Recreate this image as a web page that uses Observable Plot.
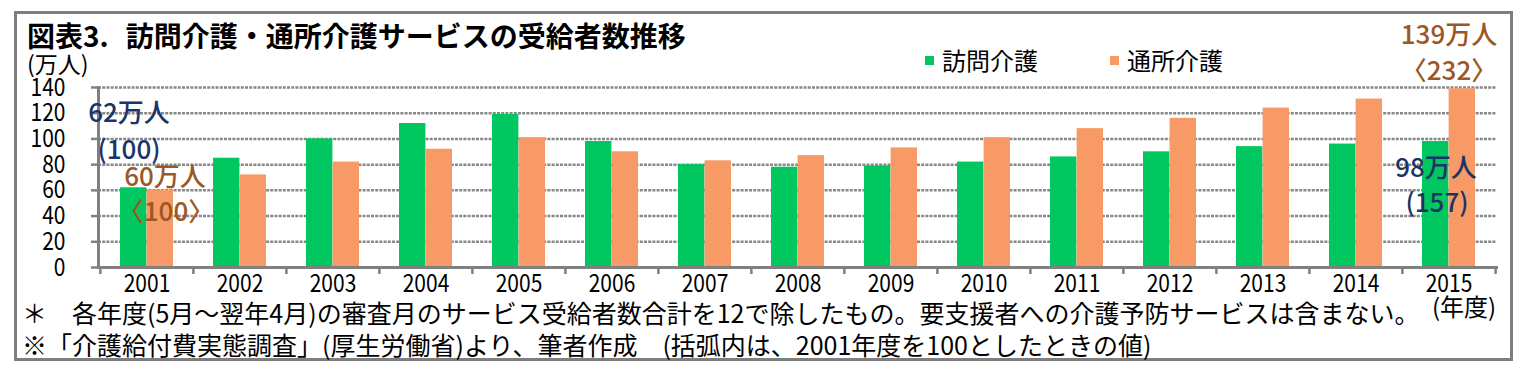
<!DOCTYPE html>
<html><head><meta charset="utf-8">
<script src="https://cdn.jsdelivr.net/npm/d3@7"></script>
<script src="https://cdn.jsdelivr.net/npm/@observablehq/plot@0.6"></script>
<style>
html,body{margin:0;padding:0;background:#fff;}
body{width:1528px;height:371px;overflow:hidden;position:relative;font-family:"Noto Sans CJK JP",sans-serif;}
#frame{position:absolute;left:14px;top:11px;width:1493px;height:344px;border:3px solid #7f7f7f;}
#chart{position:absolute;left:0;top:0;}
.t{position:absolute;white-space:nowrap;color:#000;line-height:1;}
#title{left:27px;top:21px;font-size:28px;font-weight:bold;}
#title .gap{display:inline-block;width:17px;}
#unit{left:27px;top:52px;font-size:23px;}
.leg{position:absolute;top:48px;font-size:24px;line-height:1;white-space:nowrap;}
.sw{display:inline-block;width:9px;height:9px;margin-right:8px;vertical-align:middle;position:relative;top:-3px;}
#note1{left:22px;top:300px;font-size:25px;}
#note2{left:22px;top:332px;font-size:25px;}
#nendo{left:1432px;top:294px;font-size:24px;}
</style></head><body>
<div id="frame"></div>
<div id="chart"></div>
<div class="t" id="title"></div>
<div class="t" id="unit">(万人)</div>
<div id="legend"></div>
<div class="t" id="note1"></div>
<div class="t" id="note2"></div>
<div class="t" id="nendo">(年度)</div>
<script>
const years = ["2001","2002","2003","2004","2005","2006","2007","2008","2009","2010","2011","2012","2013","2014","2015"];
const homeCare = [62,85,100,112,119,98,80,78,79,82,86,90,94,96,98];
const dayCare = [60,72,82,92,101,90,83,87,93,101,108,116,124,131,139];
const seriesNames = ["訪問介護","通所介護"];
const seriesColors = ["#00C75F","#F89A66"];
const yTicks = [0,20,40,60,80,100,120,140];
const titleNo = "図表3.";
const titleText = "訪問介護・通所介護サービスの受給者数推移";
const note1Text = "＊　各年度(5月～翌年4月)の審査月のサービス受給者数合計を12で除したもの。要支援者への介護予防サービスは含まない。";
const note2Text = "※「介護給付費実態調査」(厚生労働省)より、筆者作成　(括弧内は、2001年度を100としたときの値)";
const annHome2001 = {year:"2001", value:62, label:"62万人", index:"(100)"};
const annDay2001 = {year:"2001", value:60, label:"60万人", index:"〈100〉"};
const annHome2015 = {year:"2015", value:98, label:"98万人", index:"(157)"};
const annDay2015 = {year:"2015", value:139, label:"139万人", index:"〈232〉"};

const rows = years.flatMap((y,i)=>[
  {year:y, series:seriesNames[0], value:homeCare[i]},
  {year:y, series:seriesNames[1], value:dayCare[i]}
]);

const navy = "#1B3468", brown = "#9A5826";
const font = "'Noto Sans CJK JP',sans-serif";
const half = 46.6;

function ann(a, key, dx, dy, fill){
  return Plot.text([a], {x:"year", y:"value", text:key, dx, dy, fill, fontSize:26, fontWeight:500, fontFamily:font});
}

const chart = Plot.plot({
  width:1528, height:371,
  marginLeft:98, marginRight:32, marginTop:87, marginBottom:104,
  x:{domain:years, padding:0, axis:null},
  y:{domain:[0,140], axis:null},
  style:{fontFamily:font, fontSize:"25px", background:"transparent", overflow:"visible"},
  marks:[
    Plot.ruleY(yTicks.filter(d=>d>0), {stroke:"#878787", strokeWidth:2.5, strokeDasharray:"3,1.2"}),
    Plot.barY(rows.filter(d=>d.series===seriesNames[0]), {x:"year", y:"value", fill:seriesColors[0], insetLeft:20, insetRight:half}),
    Plot.barY(rows.filter(d=>d.series===seriesNames[1]), {x:"year", y:"value", fill:seriesColors[1], insetLeft:half, insetRight:20}),
    Plot.axisY({ticks:yTicks, label:null, tickSize:7, tickPadding:26, stroke:"#808080", strokeWidth:2.5, fontSize:25, fill:"#000"}),
    Plot.frame({anchor:"left", stroke:"#808080", strokeWidth:3}),
    Plot.frame({anchor:"bottom", stroke:"#808080", strokeWidth:3}),
    Plot.axisX({label:null, tickSize:7, dx:-half, tickFormat:()=>"", stroke:"#808080", strokeWidth:2.5}),
    Plot.axisX({label:null, ticks:[years[years.length-1]], tickSize:7, dx:half, tickFormat:()=>"", stroke:"#808080", strokeWidth:2.5}),
    Plot.axisX({label:null, tickSize:0, tickPadding:7, fontSize:25, fill:"#000"}),
    ann(annHome2001, "label", -18, -74, navy),
    ann(annHome2001, "index", -18, -37, navy),
    ann(annDay2001, "label", 18, -13, brown),
    ann(annDay2001, "index", 19, 22, brown),
    ann(annDay2015, "label", 0, -53, brown),
    ann(annDay2015, "index", 0, -17, brown),
    ann(annHome2015, "label", -13, 27, navy),
    ann(annHome2015, "index", -12, 62, navy)
  ]
});
document.getElementById("chart").appendChild(chart);
// narrow the axis digits, like the reference's condensed face
chart.querySelectorAll('g[aria-label$="tick label"] text').forEach(t=>{
  const tr = t.getAttribute("transform") || "";
  t.setAttribute("transform", tr + " scale(0.84,1)");
});

const legend = document.getElementById("legend");
const legX = [925, 1110];
seriesNames.forEach((n,i)=>{
  const d = document.createElement("div");
  d.className = "leg";
  d.style.left = legX[i] + "px";
  d.innerHTML = `<span class="sw" style="background:${seriesColors[i]}"></span>${n}`;
  legend.appendChild(d);
});
document.getElementById("title").innerHTML = `${titleNo}<span class="gap"></span>${titleText}`;
document.getElementById("note1").textContent = note1Text;
document.getElementById("note2").textContent = note2Text;
</script>
</body></html>
